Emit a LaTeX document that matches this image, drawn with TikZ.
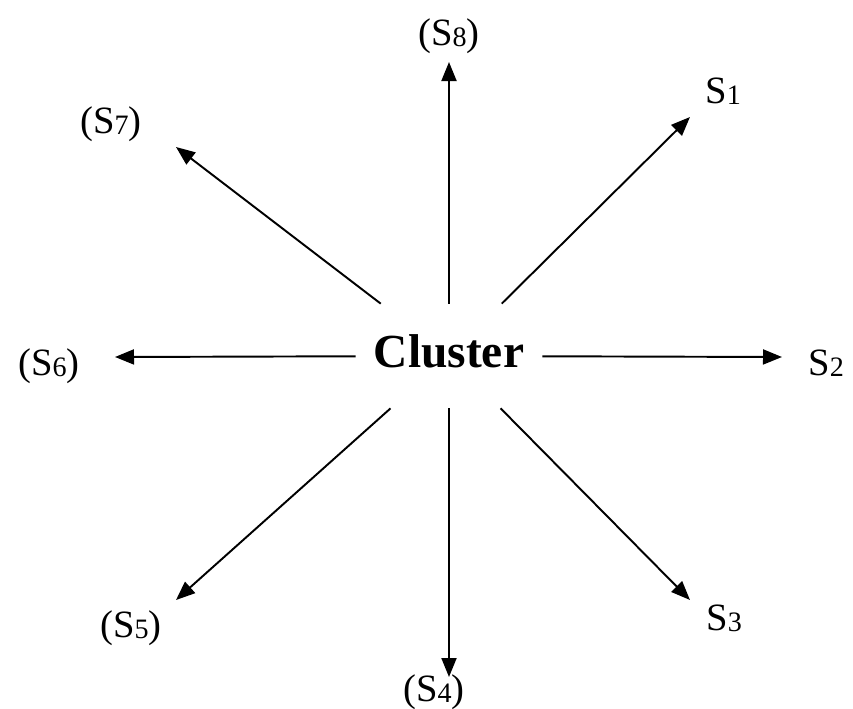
\documentclass[tikz,border=0pt]{standalone}
\usepackage{fontspec}
\setmainfont{Liberation Serif}
\usetikzlibrary{arrows.meta,positioning}
\newcommand{\sidx}[1]{S{\fontsize{16pt}{16pt}\selectfont\raisebox{-1pt}{#1}}}
\tikzset{
  hub/.style={rectangle,minimum width=3.72cm,minimum height=2.08cm,inner sep=0pt,font=\fontsize{27pt}{27pt}\selectfont\bfseries,text height=16.7pt,text depth=4pt},
  lab/.style={anchor=base west,inner sep=0pt,font=\fontsize{22pt}{22pt}\selectfont},
  spoke/.style={-{Triangle[length=3.8mm,width=3mm]},line width=1.1pt},
}
\begin{document}
\begin{tikzpicture}[x=0.02cm,y=-0.02cm]
        \useasboundingbox (0,0) rectangle (853,708);
        \node[hub] (cl) at (449,356) {Cluster};
        % arrow tips
        \coordinate (e1) at (690,117);
        \coordinate (e2) at (782,357);
        \coordinate (e3) at (690,600);
        \coordinate (e4) at (449,677);
        \coordinate (e5) at (176,600);
        \coordinate (e6) at (115,357);
        \coordinate (e7) at (176,147);
        \coordinate (e8) at (449,62);
        \foreach \i in {1,...,8}
          \draw[spoke] (cl) -- (e\i);
        \node[lab] (s1) at (705,103) {\sidx{1}};
        \node[lab] (s2) at (808,375) {\sidx{2}};
        \node[lab] (s3) at (706,630) {\sidx{3}};
        \node[lab] (s4) at (403,701) {(\sidx{4})};
        \node[lab] (s5) at (100,637) {(\sidx{5})};
        \node[lab] (s6) at (18,375) {(\sidx{6})};
        \node[lab] (s7) at (80,133) {(\sidx{7})};
        \node[lab] (s8) at (418,45) {(\sidx{8})};
      \end{tikzpicture}
\end{document}
